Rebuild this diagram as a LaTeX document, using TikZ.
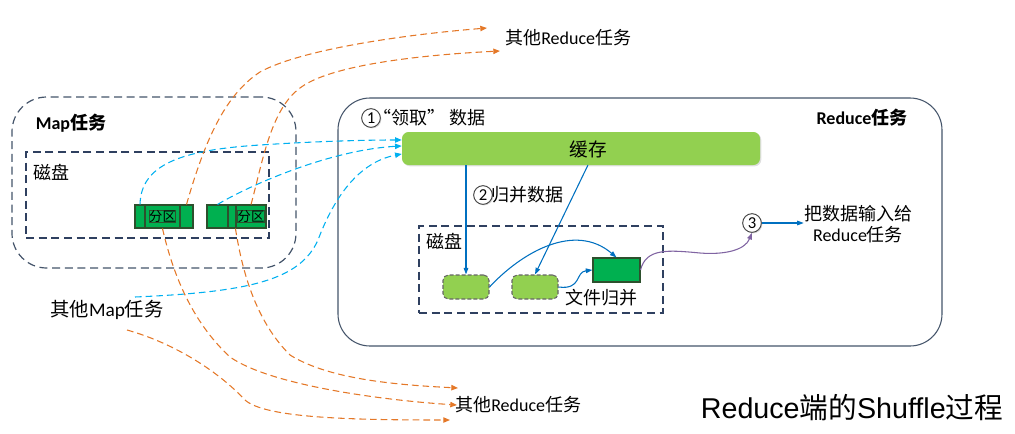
\documentclass[tikz,border=0pt]{standalone}
\usepackage{fontspec}
\setmainfont{Carlito}
\newfontfamily\cjk{Noto Sans CJK SC}
\newfontfamily\arialf{Liberation Sans}
\usetikzlibrary{fit,shadows,arrows.meta,calc}
\definecolor{boxblue}{RGB}{68,84,106}
\definecolor{diskblue}{RGB}{47,64,96}
\definecolor{lblue}{RGB}{0,176,240}
\definecolor{orng}{RGB}{228,120,40}
\definecolor{dblue}{RGB}{0,112,192}
\definecolor{purp}{RGB}{128,100,162}
\definecolor{lgreen}{RGB}{146,208,80}
\definecolor{dgreen}{RGB}{0,176,80}
\definecolor{dgborder}{RGB}{45,80,45}
\newcommand{\zh}[1]{{\cjk #1}}
\begin{document}
\begin{tikzpicture}[x=0.75pt,y=-0.75pt,
  mapbox/.style={draw=boxblue, line width=0.9pt, dash pattern=on 6pt off 3.5pt, rounded corners=26pt, inner sep=0pt},
  diskbox/.style={draw=diskblue, line width=0.9pt, dash pattern=on 6pt off 3.5pt, inner sep=0pt},
  redbox/.style={draw=boxblue, line width=0.8pt, rounded corners=24pt, inner sep=0pt},
  cachebar/.style={fill=lgreen, rounded corners=5pt, inner sep=0pt, drop shadow={opacity=0.25, shadow xshift=1pt, shadow yshift=-1pt}},
  seg/.style={fill=dgreen, draw=dgborder, line width=0.8pt, inner sep=0pt, font=\cjk\fontsize{10}{12}\selectfont},
  smallg/.style={fill=lgreen, draw=black!60, line width=0.8pt, dash pattern=on 3pt off 1.5pt, rounded corners=4pt, inner sep=0pt},
  darkg/.style={fill=dgreen, draw=dgborder, line width=0.8pt, inner sep=0pt},
  lbl/.style={font=\fontsize{13.5}{16}\selectfont, inner sep=0pt, align=center},
  blbl/.style={font=\bfseries\fontsize{13.5}{16}\selectfont, inner sep=0pt},
  circnum/.style={circle, draw=black!75, fill=white, line width=0.7pt, minimum size=14pt, inner sep=0pt, font=\fontsize{12.5}{13}\selectfont, drop shadow={opacity=0.3, shadow xshift=0.8pt, shadow yshift=-0.8pt}},
  lbarr/.style={draw=lblue, line width=0.8pt, dash pattern=on 5pt off 3pt, -{Triangle[length=5pt,width=4pt]}},
  orarr/.style={draw=orng, line width=0.8pt, dash pattern=on 5pt off 3pt, -{Triangle[length=5pt,width=4pt]}},
  barr/.style={draw=dblue, line width=0.8pt, -{Triangle[length=5pt,width=3.5pt]}},
  parr/.style={draw=purp, line width=0.8pt, -{Triangle[length=5pt,width=3.5pt]}}
]
\useasboundingbox (0,0) rectangle (1015,433);

% Map task
\node[mapbox, fit={(12,97)(296,268)}] (map) {};
\node[blbl] (maplbl) at (71,123) {Map\zh{任务}};
\node[diskbox, fit={(26,152)(269,238)}] (disk1) {};
\node[lbl, anchor=west] (disk1lbl) at (33,172) {\zh{磁盘}};
\node[seg, fit={(135,205)(145,228)}] (p1a) {};
\node[seg, fit={(145,205)(180,228)}] (p1b) {};
\node[seg] at (p1b.center) {分区};
\node[seg, fit={(180,205)(193,228)}] (p1c) {};
\node[seg, fit={(207,205)(228,228)}] (p2a) {};
\node[seg, fit={(228,205)(236,228)}] (p2b) {};
\node[seg, fit={(236,205)(266,228)}] (p2c) {};
\node[seg] at (p2c.center) {分区};

% Reduce task
\node[redbox, fit={(338,98)(942,346)}] (red) {};
\node[blbl] (redlbl) at (862,118) {Reduce\zh{任务}};
\node[circnum] (c1) at (371,118) {1};
\node[lbl, anchor=west] (t1) at (373,118) {\zh{“领取” 数据}};
\node[cachebar, fit={(402,132)(760,165)}] (cache) {};
\node[lbl, font=\cjk\fontsize{14}{16}\selectfont] (cachelbl) at (588,149) {缓存};
\node[circnum] (c2) at (483,195) {2};
\node[lbl, anchor=west] (t2) at (491,195) {\zh{归并数据}};
\node[diskbox, fit={(419,226)(663,313)}] (disk2) {};
\node[lbl, anchor=west] (disk2lbl) at (426,241) {\zh{磁盘}};
\node[smallg, fit={(443,275)(489,299)}] (g1) {};
\node[smallg, fit={(512,275)(558,299)}] (g2) {};
\node[darkg, fit={(593,258)(640,282)}] (dg) {};
\node[lbl, anchor=west] (mergelbl) at (565,298) {\zh{文件归并}};
\node[circnum] (c3) at (752,223) {3};
\node[lbl] (inlbl) at (858,224) {\zh{把数据输入给}\\Reduce\zh{任务}};

% other labels
\node[lbl, font=\fontsize{14.5}{16}\selectfont] (othermap) at (107,310) {\zh{其他}Map\zh{任务}};
\node[lbl, anchor=west] (otherred1) at (505,38) {\zh{其他}Reduce\zh{任务}};
\node[lbl, anchor=west] (otherred2) at (455,405) {\zh{其他}Reduce\zh{任务}};
\node[inner sep=0pt, font=\fontsize{21.5}{24}\selectfont] (title) at (852,408) {\arialf Reduce\zh{端的}Shuffle\zh{过程}};

% coordinates
\coordinate (cs2) at (588,165);
\coordinate (mapsrc1) at (135,297);
\coordinate (mapsrc2) at (127,330);
\coordinate (ot1) at (487,28);
\coordinate (ot2) at (500,51);
\coordinate (ob1) at (458,388);
\coordinate (ob2) at (457,405);
\coordinate (ob3) at (450,420);

% blue solid arrows inside reduce
\draw[barr] (g1.north |- cache.south) -- (g1.north);
\draw[barr] (cs2) -- (g2.north);
\draw[barr] (g1.east) .. controls (522,252) and (575,222) .. (dg.north);
\draw[barr] (g2.east) .. controls (582,290) and (575,272) .. (dg.west);
\draw[parr] (dg.east) .. controls (646,248) and (668,250) .. (700,253) .. controls (725,255) and (745,250) .. (c3.south);
\draw[barr] (c3.east) -- (inlbl.west |- c3.east);

% light blue dashed
\draw[lbarr] (p1a.north) .. controls (141,165) and (180,150) .. (260,145) .. controls (320,141) and (370,140) .. ([yshift=6.4pt]cache.west);
\draw[lbarr] (p2a.north) .. controls (250,185) and (330,150) .. ([yshift=1.9pt]cache.west);
\draw[lbarr] (mapsrc1) .. controls (250,292) and (300,280) .. (318,240) .. controls (335,195) and (360,162) .. ([yshift=-4.1pt]cache.west);

% orange dashed
\draw[orarr] (p1c.north) .. controls (205,140) and (225,95) .. (260,72) .. controls (300,50) and (400,35) .. (ot1);
\draw[orarr] (p2c.north) .. controls (262,165) and (270,110) .. (300,88) .. controls (330,65) and (420,55) .. (ot2);
\draw[orarr] (p2c.south west) .. controls (242,270) and (255,320) .. (290,355) .. controls (330,380) and (400,385) .. (ob1);
\draw[orarr] (p1b.south) .. controls (172,270) and (190,320) .. (230,357) .. controls (270,385) and (380,400) .. (ob2);
\draw[orarr] (mapsrc2) .. controls (170,342) and (215,368) .. (245,400) .. controls (265,418) and (350,420) .. (ob3);
\end{tikzpicture}
\end{document}
